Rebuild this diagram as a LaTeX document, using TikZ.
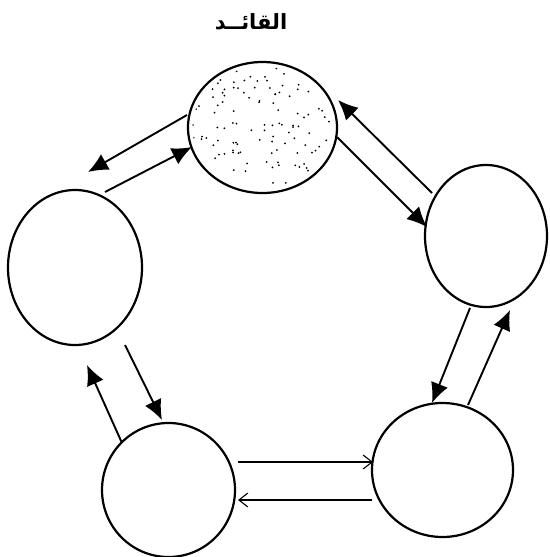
\documentclass[tikz,border=0pt]{standalone}
\usepackage{fontspec}
\newfontfamily\arabicfont[Script=Arabic]{DejaVu Sans}
\TeXXeTstate=1
\usetikzlibrary{shapes.geometric,arrows.meta,calc}
\begin{document}
\begin{tikzpicture}[x=1pt,y=-1pt,
  member/.style={draw,ellipse,line width=2.2pt,inner sep=0pt,outer sep=0pt},
  link/.style={line width=1.9pt,-{Latex[length=20pt,width=18pt]}},
  flow/.style={line width=1.1pt,-{Straight Barb[length=9pt,width=14pt]}}]
\useasboundingbox (0,0) rectangle (549,557);
\fill[white] (0,0) rectangle (549,557);
% members
\node[member,minimum width=149pt,minimum height=131pt] (T) at (262.5,127.5) {};
\node[member,minimum width=134pt,minimum height=155pt] (L) at (75,267.5) {};
\node[member,minimum width=122pt,minimum height=142pt] (R) at (486,236) {};
\node[member,minimum width=133pt,minimum height=134pt] (BL) at (168.5,490) {};
\node[member,minimum width=141pt,minimum height=134pt] (BR) at (442.5,470) {};
% title
\node[font=\arabicfont\bfseries\fontsize{21}{24}\selectfont] (title) at (251,22) {\beginR القائــد\endR};
% stipple in the leader
\begin{scope}
  \clip (T.center) ellipse [x radius=70pt,y radius=61pt];
  \pgfmathsetseed{11}
  \foreach \i in {1,...,140}{
    \pgfmathsetmacro{\px}{rnd*150-75}
    \pgfmathsetmacro{\py}{rnd*130-65}
    \fill ($(T.center)+(\px,\py)$) circle[radius=1pt];
  }
\end{scope}
% links
\draw[link] ($(T.center)+(-75.5,-12.5)$) -- ($(L.center)+(13,-95.5)$);
\draw[link] ($(L.center)+(30,-75.5)$) -- ($(T.center)+(-70.5,19.5)$);
\draw[link] ($(R.center)+(-54,-43)$) -- ($(T.center)+(75.5,-27.5)$);
\draw[link] ($(T.center)+(74.5,9.5)$) -- ($(R.center)+(-59,-9)$);
\draw[link] ($(R.center)+(-16,72)$) -- ($(BR.center)+(-10.5,-67)$);
\draw[link] ($(BR.center)+(25.5,-65)$) -- ($(R.center)+(24,74)$);
\draw[link] ($(L.center)+(50,77.5)$) -- ($(BL.center)+(-6.5,-70)$);
\draw[link] ($(BL.center)+(-46.5,-47)$) -- ($(L.center)+(12,97.5)$);
\draw[flow] ($(BL.center)+(69.5,-28)$) -- ($(BR.center)+(-69.5,-8)$);
\draw[flow] ($(BR.center)+(-70.5,30)$) -- ($(BL.center)+(69.5,10)$);
\end{tikzpicture}
\end{document}
